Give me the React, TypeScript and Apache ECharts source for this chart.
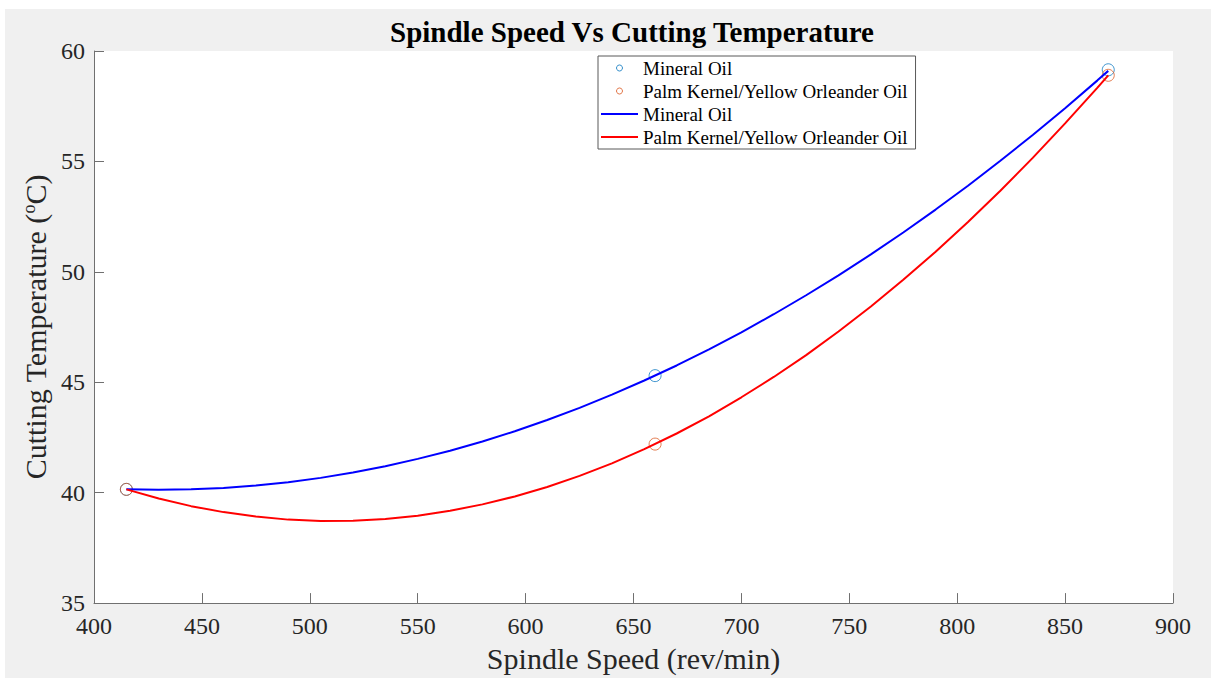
import React, { useEffect, useRef } from "react";
import * as echarts from "echarts";

const titleText = "Spindle Speed Vs Cutting Temperature";
const xAxisTitle = "Spindle Speed (rev/min)";

// measured points
const speeds = [415, 660, 870];
const mineralTemps = [40.15, 45.3, 59.15];
const palmTemps = [40.15, 42.2, 58.9];

// fitted curves
const fitSpeeds = [
  415, 430, 445, 460, 475, 490, 505, 520, 535, 550, 565, 580, 595, 610, 625, 640,
  655, 670, 685, 700, 715, 730, 745, 760, 775, 790, 805, 820, 835, 850, 865, 870,
];
const mineralFit = [
  40.15, 40.13, 40.15, 40.21, 40.32, 40.47, 40.67, 40.91, 41.2, 41.53, 41.9, 42.32, 42.78, 43.29, 43.84, 44.44,
  45.08, 45.76, 46.49, 47.26, 48.08, 48.94, 49.84, 50.79, 51.78, 52.82, 53.9, 55.03, 56.2, 57.41, 58.67, 59.1,
];
const palmFit = [
  40.15, 39.74, 39.39, 39.12, 38.92, 38.78, 38.72, 38.73, 38.81, 38.96, 39.18, 39.47, 39.83, 40.26, 40.76, 41.33,
  41.97, 42.68, 43.46, 44.32, 45.24, 46.23, 47.3, 48.43, 49.64, 50.91, 52.26, 53.67, 55.16, 56.72, 58.34, 58.9,
];

const legendLabels: Record<string, string> = {
  mineralPts: "Mineral Oil",
  palmPts: "Palm Kernel/Yellow Orleander Oil",
  mineralFit: "Mineral Oil",
  palmFit: "Palm Kernel/Yellow Orleander Oil",
};

const SERIF = "'Liberation Serif', 'Times New Roman', serif";
const PT_BLUE = "#0072BD";
const PT_ORANGE = "#D95319";
const LINE_BLUE = "#0000FF";
const LINE_RED = "#FF0000";
const AXIS_GRAY = "#707070";
const LINE_ICON = "path://M0,0 L37,0 L37,2 L0,2 Z";

export default function App() {
  const ref = useRef<HTMLDivElement>(null);

  useEffect(() => {
    if (!ref.current) return;
    const chart = echarts.init(ref.current, null, { renderer: "svg" });
    const pair = (xs: number[], ys: number[]) => xs.map((x, i) => [x, ys[i]]);

    chart.setOption({
      animation: false,
      backgroundColor: "#f0f0f0",
      title: {
        text: titleText,
        left: 627,
        top: 8,
        padding: 0,
        textAlign: "center",
        textStyle: { fontFamily: SERIF, fontWeight: "bold", fontSize: 29, color: "#000" },
      },
      grid: {
        left: 89,
        right: 38,
        top: 42,
        bottom: 73,
        show: true,
        backgroundColor: "#ffffff",
        borderWidth: 0,
      },
      legend: {
        orient: "vertical",
        left: 593,
        top: 47,
        padding: [2, 8, 2, 3],
        itemWidth: 37,
        itemHeight: 6,
        itemGap: 3,
        itemTextGap: 2,
        selectedMode: false,
        backgroundColor: "#ffffff",
        borderColor: "#595959",
        borderWidth: 1,
        textStyle: { fontFamily: SERIF, fontSize: 19, color: "#000", lineHeight: 20 },
        formatter: (name: string) => legendLabels[name] ?? name,
        data: [
          { name: "mineralPts", icon: "circle", itemStyle: { color: "transparent", borderColor: PT_BLUE, borderWidth: 1, opacity: 0.8 } },
          { name: "palmPts", icon: "circle", itemStyle: { color: "transparent", borderColor: PT_ORANGE, borderWidth: 1, opacity: 0.8 } },
          { name: "mineralFit", icon: LINE_ICON, itemStyle: { color: LINE_BLUE, borderWidth: 0 } },
          { name: "palmFit", icon: LINE_ICON, itemStyle: { color: LINE_RED, borderWidth: 0 } },
        ],
      },
      xAxis: {
        type: "value",
        min: 400,
        max: 900,
        interval: 50,
        name: xAxisTitle,
        nameLocation: "middle",
        nameGap: 31,
        nameTextStyle: { fontFamily: SERIF, fontSize: 30, color: "#262626" },
        axisLine: { show: true, lineStyle: { color: AXIS_GRAY, width: 1 } },
        axisTick: { show: true, inside: true, length: 10, lineStyle: { color: AXIS_GRAY } },
        axisLabel: { margin: 11, fontFamily: SERIF, fontSize: 24, color: "#262626" },
        splitLine: { show: false },
      },
      yAxis: {
        type: "value",
        min: 35,
        max: 60,
        interval: 5,
        name: "Cutting Temperature ({sup|o}C)",
        nameLocation: "middle",
        nameGap: 37,
        nameRotate: 90,
        nameTextStyle: {
          fontFamily: SERIF,
          fontSize: 30,
          color: "#262626",
          rich: {
            sup: { fontFamily: SERIF, fontSize: 18, color: "#262626", padding: [0, 0, 13, 0] },
          },
        },
        axisLine: { show: true, lineStyle: { color: AXIS_GRAY, width: 1 } },
        axisTick: { show: true, inside: true, length: 10, lineStyle: { color: AXIS_GRAY } },
        axisLabel: { margin: 9, fontFamily: SERIF, fontSize: 24, color: "#262626" },
        splitLine: { show: false },
      },
      series: [
        {
          name: "mineralPts",
          type: "scatter",
          symbol: "circle",
          symbolSize: 12,
          itemStyle: { color: "transparent", borderColor: PT_BLUE, borderWidth: 1, opacity: 0.75 },
          data: pair(speeds, mineralTemps),
          z: 2,
        },
        {
          name: "palmPts",
          type: "scatter",
          symbol: "circle",
          symbolSize: 12,
          itemStyle: { color: "transparent", borderColor: PT_ORANGE, borderWidth: 1, opacity: 0.75 },
          data: pair(speeds, palmTemps),
          z: 2,
        },
        {
          name: "mineralFit",
          type: "line",
          symbol: "none",
          showSymbol: false,
          smooth: false,
          lineStyle: { color: LINE_BLUE, width: 2 },
          itemStyle: { color: LINE_BLUE },
          data: pair(fitSpeeds, mineralFit),
          z: 3,
        },
        {
          name: "palmFit",
          type: "line",
          symbol: "none",
          showSymbol: false,
          smooth: false,
          lineStyle: { color: LINE_RED, width: 2 },
          itemStyle: { color: LINE_RED },
          data: pair(fitSpeeds, palmFit),
          z: 3,
        },
      ],
    });

    return () => chart.dispose();
  }, []);

  return (
    <div style={{ position: "fixed", left: 0, top: 0, width: 1211, height: 678, background: "#ffffff" }}>
      <div
        ref={ref}
        style={{ position: "absolute", left: 5, top: 9, width: 1206, height: 669 }}
      />
    </div>
  );
}
